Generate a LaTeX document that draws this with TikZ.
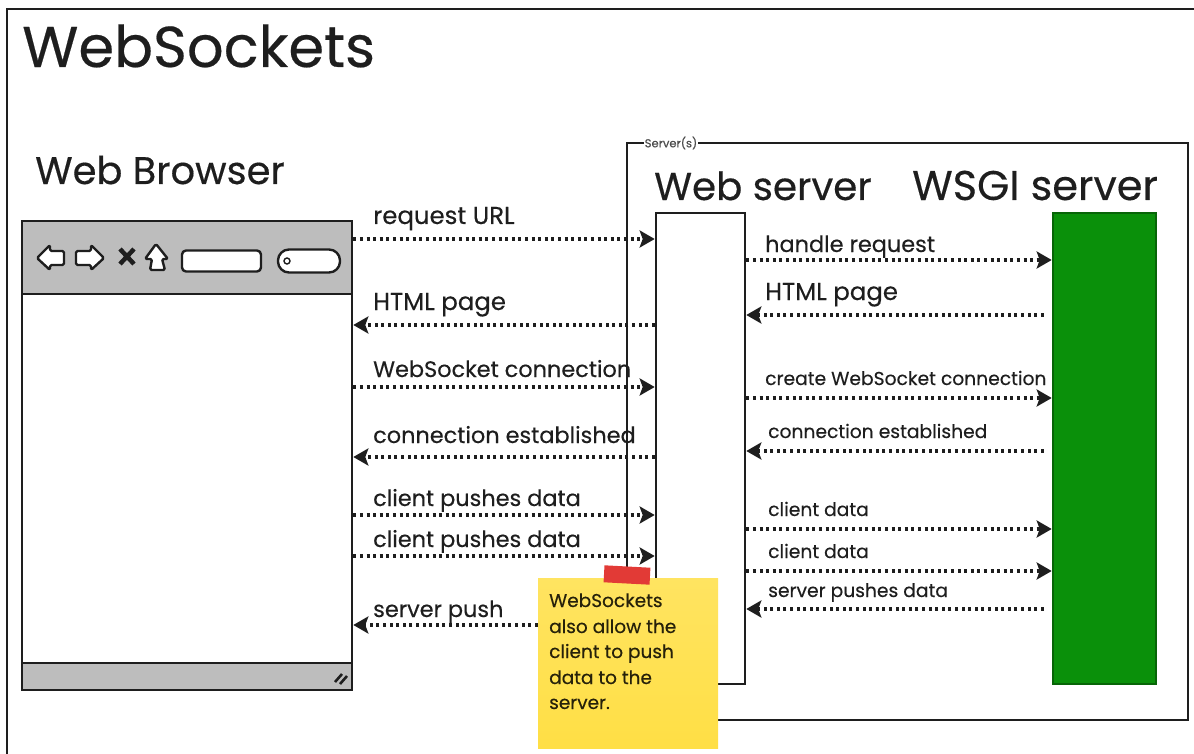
\documentclass[tikz,border=0pt]{standalone}
\usepackage{fontspec}
\setmainfont[FakeBold=0.35]{Poppins}
\usetikzlibrary{arrows.meta}
\definecolor{barGray}{HTML}{BDBDBD}
\definecolor{wsgiGreen}{HTML}{0A900A}
\definecolor{noteYellow}{HTML}{FFDF45}
\definecolor{tapeRed}{HTML}{E23A36}
\definecolor{inkBlack}{HTML}{1E1E1E}
\begin{document}
\begin{tikzpicture}[
    x=1pt,
    y=-1pt,
    box/.style={rectangle, draw=inkBlack, line width=2.6pt, inner sep=0pt},
    bar/.style={box, fill=barGray},
    heading/.style={anchor=base west, inner sep=0pt, text=inkBlack},
    msglabel/.style={heading, font=\fontsize{22.4}{22.4}\selectfont},
    widelabel/.style={heading, font=\fontsize{24.4}{24.4}\selectfont},
    smalllabel/.style={heading, font=\fontsize{18.7}{18.7}\selectfont},
    notelabel/.style={heading, font=\fontsize{18.5}{18.5}\selectfont, text=black!85!noteYellow},
    msg/.style={draw=inkBlack, line width=3.2pt, dash pattern=on 3pt off 3.6pt, -{Stealth[length=15pt,width=17pt,inset=3pt]}},
    icon/.style={draw=inkBlack, line width=2.4pt, fill=white, rounded corners=1.5pt, line join=round}
]
\useasboundingbox (0,0) rectangle (1194,754);

% Page frame
\draw[inkBlack, line width=2.4pt] (1194,9) -- (7,9) -- (7,754);
\node[heading, font=\fontsize{57.6}{57.6}\selectfont] (title) at (22,67) {WebSockets};

% Server frame
\node[box, minimum width=561pt, minimum height=577pt] (servers) at (907.5,431.5) {};
\node[fill=white, inner sep=1pt, font=\fontsize{11.5}{11.5}\selectfont, text=black!70] (serverslabel) at (671,143) {Server(s)};

% Web browser
\node[heading, font=\fontsize{38.4}{38.4}\selectfont] (browserlabel) at (35,184) {Web Browser};
\node[box, fill=white, minimum width=330pt, minimum height=469pt] (browser) at (187,455.5) {};
\node[bar, minimum width=330pt, minimum height=73pt] (toolbar) at (187,257.5) {};
\node[bar, minimum width=330pt, minimum height=27pt] (statusbar) at (187,676.5) {};

% Toolbar icons
\draw[icon] (37,258) -- (50,245) -- (50,251) -- (64,251) -- (64,265) -- (50,265) -- (50,270) -- cycle;
\draw[icon] (104,258) -- (91,245) -- (91,251) -- (76,251) -- (76,265) -- (91,265) -- (91,270) -- cycle;
\draw[inkBlack, line width=4.5pt] (120,249) -- (134,264) (134,249) -- (120,264);
\draw[icon] (156,244) -- (168,259) -- (162,259) -- (165,270) -- (150,270) -- (152,259) -- (145,259) -- cycle;
\node[icon, rounded corners=4pt, minimum width=79pt, minimum height=21pt, inner sep=0pt] (urlbox) at (221.5,261) {};
\node[icon, rounded corners=11pt, minimum width=62pt, minimum height=23pt, inner sep=0pt] (searchbox) at (309,261) {};
\node[draw=inkBlack, line width=1.4pt, circle, minimum size=6pt, inner sep=0pt] (searchdot) at (287,261) {};
\draw[inkBlack, line width=2.6pt] (335,682) -- (342,674) (340,684) -- (347,676);

% Server boxes
\node[heading, font=\fontsize{38.8}{38.8}\selectfont] (webserverlabel) at (654,200) {Web server};
\node[heading, font=\fontsize{41.5}{41.5}\selectfont] (wsgilabel) at (912,200) {WSGI server};
\node[box, fill=white, minimum width=89pt, minimum height=471pt] (webserver) at (700.5,448.5) {};
\node[box, fill=wsgiGreen, draw=wsgiGreen!70!black, minimum width=103pt, minimum height=471pt] (wsgi) at (1104.5,448.5) {};

% Browser and web server messages
\draw[msg] (browser.east |- 0,239) -- (webserver.west |- 0,239);
\draw[msg] (webserver.west |- 0,325) -- (browser.east |- 0,325);
\draw[msg] (browser.east |- 0,387) -- (webserver.west |- 0,387);
\draw[msg] (webserver.west |- 0,457) -- (browser.east |- 0,457);
\draw[msg] (browser.east |- 0,515) -- (webserver.west |- 0,515);
\draw[msg] (browser.east |- 0,556) -- (webserver.west |- 0,556);
\node[widelabel] (msgurl) at (373,224) {request URL};
\node[widelabel] (msghtml) at (373,310) {HTML page};
\node[msglabel] (msgconn) at (373,377) {WebSocket connection};
\node[msglabel] (msgdone) at (373,443) {connection established};
\node[msglabel] (msgpusha) at (373,506) {client pushes data};
\node[msglabel] (msgpushb) at (373,547) {client pushes data};
\node[msglabel] (msgpush) at (373,617) {server push};

% Web server and WSGI messages
\draw[msg] (webserver.east |- 0,260) -- (wsgi.west |- 0,260);
\draw[msg, shorten <=8pt] (wsgi.west |- 0,315) -- (webserver.east |- 0,315);
\draw[msg] (webserver.east |- 0,398) -- (wsgi.west |- 0,398);
\draw[msg, shorten <=8pt] (wsgi.west |- 0,451) -- (webserver.east |- 0,451);
\draw[msg] (webserver.east |- 0,529) -- (wsgi.west |- 0,529);
\draw[msg] (webserver.east |- 0,571) -- (wsgi.west |- 0,571);
\draw[msg, shorten <=8pt] (wsgi.west |- 0,609) -- (webserver.east |- 0,609);
\node[msglabel] (wsgihandle) at (765,252) {handle request};
\node[widelabel] (wsgihtml) at (765,300) {HTML page};
\node[smalllabel] (wsgiconn) at (765,385) {create WebSocket connection};
\node[smalllabel] (wsgidone) at (768,438) {connection established};
\node[smalllabel] (wsgidataa) at (768,516) {client data};
\node[smalllabel] (wsgidatab) at (768,558) {client data};
\node[smalllabel] (wsgipush) at (768,597) {server pushes data};

% Sticky note
\node[minimum width=180pt, minimum height=170pt, inner sep=0pt, top color=noteYellow!85!white, bottom color=noteYellow] (note) at (628,663) {};
\node[minimum width=46pt, minimum height=17pt, inner sep=0pt, fill=tapeRed, rotate=-3] (tape) at (627,575) {};
\draw[msg] (note.west |- 0,625) -- (browser.east |- 0,625);
\node[notelabel] (notea) at (549,607) {WebSockets};
\node[notelabel] (noteb) at (549,633) {also allow the};
\node[notelabel] (notec) at (549,658) {client to push};
\node[notelabel] (noted) at (549,684) {data to the};
\node[notelabel] (notee) at (549,709) {server.};

\end{tikzpicture}
\end{document}
